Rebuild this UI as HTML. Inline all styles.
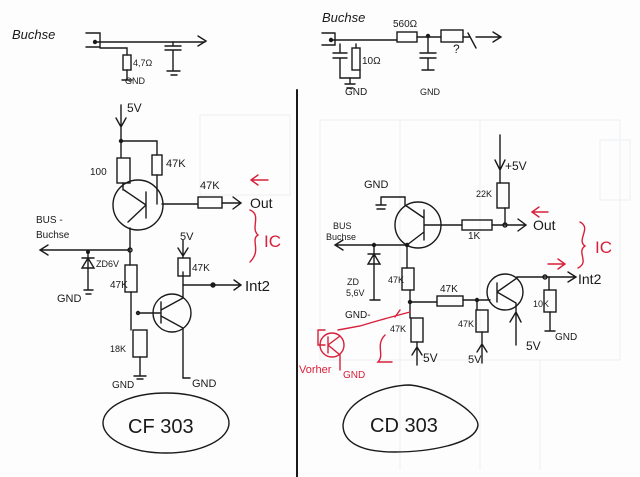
<!DOCTYPE html>
<html><head><meta charset="utf-8"><style>
html,body{margin:0;padding:0;background:#fff;}
svg{display:block;}
text{font-family:"Liberation Sans",sans-serif;fill:#1a1a1a;}
.r{fill:#d8203a;}
</style></head><body>
<svg width="640" height="477" viewBox="0 0 640 477" xmlns="http://www.w3.org/2000/svg">
<rect width="640" height="477" fill="#fdfdfd"/>
<g stroke="#eaeef4" stroke-width="1" fill="none">
<rect x="200" y="115" width="90" height="80"/><rect x="320" y="120" width="300" height="240"/>
<line x1="400" y1="120" x2="400" y2="470"/><line x1="480" y1="120" x2="480" y2="470"/>
<line x1="540" y1="360" x2="540" y2="470"/><rect x="600" y="140" width="30" height="60"/>
</g>
<g stroke="#1a1a1a" stroke-width="1.4" fill="none" stroke-linecap="round">
<path d="M86 33 H100 V47 H86"/><circle cx="95" cy="42" r="1.5" fill="#1a1a1a"/>
<path d="M95 42 H205 M198 36 L206 41 L198 46"/>
<path d="M173 42 V46 M165 46 H181 M165 50 H181 M173 50 V70 M167 71 H180 M171 75 H177"/>
<path d="M100 48 H127 V55"/><rect x="123" y="55" width="8" height="15"/><path d="M127 70 V80 M122 80 H132"/>
<path d="M121 105 V140 M116 118 L121 127 L126 118"/>
<circle cx="121" cy="141" r="1.5" fill="#1a1a1a"/>
<path d="M121 141 H157 V155 M157 175 V204 M121 141 V157 M123 183 V190"/>
<rect x="152" y="155" width="10" height="20"/><rect x="117" y="158" width="13" height="25"/>
<circle cx="138" cy="205" r="25"/><path d="M146 192 V218 M146 205 L124 190 M146 205 L128 222 M162 204 H198"/>
<rect x="198" y="197" width="24" height="11"/><path d="M222 203 H240 M233 197 L241 203 L233 209"/>
<path d="M130 228 V265 M130 250 H40 M48 245 L40 250 L48 255"/><circle cx="130" cy="250" r="2"/>
<circle cx="88" cy="252" r="1.3" fill="#1a1a1a"/>
<path d="M88 252 V290 M82 268 H94 L88 258 Z M82 258 H94 M84 290 H93 M86 294 H91"/>
<rect x="125" y="265" width="12" height="27"/><path d="M131 292 V330"/><circle cx="138" cy="313" r="1.5"/>
<path d="M138 313 H160 M161 302 V323"/>
<circle cx="172" cy="313" r="19"/><path d="M161 310 L183 298 M161 316 L183 328 V378 M183 298 V272"/>
<path d="M183 240 V258 M178 248 L183 256 L188 248"/><rect x="178" y="258" width="12" height="18"/>
<path d="M183 285 H213 M213 285 H240 M234 280 L241 285 L234 290"/><circle cx="213" cy="285" r="2" fill="#1a1a1a"/>
<rect x="133" y="330" width="14" height="27"/><path d="M140 357 V375 M134 376 H146 M137 379 H143"/>
<path d="M183 378 H190"/>
<ellipse cx="166" cy="423" rx="63" ry="30"/>
<path d="M297 90 V477" stroke-width="2"/>
<path d="M322 33 H335 M322 45 H335 V33"/><circle cx="331" cy="40" r="1.5" fill="#1a1a1a"/>
<path d="M331 40 H397 M417 37 H441 M463 37 H470 M468 33 L476 48 M476 37 H500 M493 32 L501 37 L493 42"/>
<rect x="397" y="32" width="20" height="10"/><circle cx="428" cy="36" r="1.5" fill="#1a1a1a"/>
<rect x="441" y="30" width="22" height="12"/>
<path d="M428 36 V53 M420 53 H436 M420 58 H436 M428 58 V70 M422 70 H434"/>
<path d="M340 44 V53 M333 53 H347 M333 58 H347 M340 58 V78 H360 V70 M356 48 V44"/>
<rect x="352" y="48" width="8" height="22"/><path d="M350 78 V84 M345 84 H355 M347 88 H353"/>
<path d="M500 135 V183 M495 160 L500 170 L505 160"/><rect x="497" y="183" width="12" height="25"/>
<path d="M505 208 V225 M492 225 H525 M518 219 L526 225 L518 231"/><circle cx="505" cy="225" r="2"/>
<path d="M381 197 V205 M376 205 H386 M377 209 H385 M381 197 H405 V205"/>
<circle cx="418" cy="225" r="23"/><path d="M424 210 V240 M424 225 H462 M424 218 L405 205 M424 232 L407 245"/>
<rect x="462" y="220" width="30" height="10"/>
<path d="M407 245 H335 M343 240 L335 245 L343 250"/><circle cx="374" cy="245" r="1.5" fill="#1a1a1a"/><circle cx="407" cy="245" r="1.5" fill="#1a1a1a"/>
<path d="M374 245 V300 M368 264 H380 L374 254 Z M368 254 H380 M370 300 H380"/>
<path d="M407 245 V268"/><rect x="402" y="268" width="12" height="22"/>
<path d="M410 290 V318 M410 302 H437"/><circle cx="410" cy="302" r="1.5" fill="#1a1a1a"/>
<rect x="437" y="296" width="26" height="10"/><path d="M463 300 H490"/><circle cx="477" cy="300" r="1.5" fill="#1a1a1a"/>
<path d="M477 300 V310"/><rect x="476" y="310" width="12" height="22"/><path d="M482 332 V363 M477 352 L482 344 L487 352"/>
<rect x="411" y="318" width="12" height="24"/><path d="M417 342 V365 M412 355 L417 347 L422 355"/>
<circle cx="505" cy="292" r="18"/><path d="M497 283 V302 M497 292 L516 303 V345 M510 322 L516 312 L521 322 M497 292 L517 278 V277 H545"/>
<path d="M545 277 H575 M568 272 L576 277 L568 282"/><circle cx="545" cy="277" r="2"/>
<path d="M549 277 V290"/><rect x="544" y="290" width="12" height="22"/><path d="M550 312 V330 M545 331 H555"/>
<path d="M343 425 C345 400 385 385 410 385 C440 388 478 412 478 425 C476 445 425 452 395 452 C360 452 343 442 343 425 Z"/>
</g>
<g stroke="#d8203a" stroke-width="1.4" fill="none" stroke-linecap="round">
<path d="M268 180 H252 M258 175 L251 180 L258 185"/>
<path d="M250 210 C262 215 250 228 258 235 C250 240 262 250 250 262"/>
<path d="M548 264 H564 M558 259 L565 264 L558 269"/>
<path d="M533 212 H548 M539 207 L532 212 L539 217"/>
<path d="M580 222 C592 228 576 240 585 246 C576 252 590 262 578 268"/>
<path d="M410 312 L395 316 Q380 320 360 326 L338 330 M400 310 L395 317"/>
<path d="M318 330 H325 M318 330 V345 H325"/><circle cx="332" cy="345" r="12"/>
<path d="M328 337 V353 M328 345 L340 336 M328 345 L340 355 V370"/>
<path d="M385 335 C375 345 385 355 378 362 L392 362"/>
</g>
<text x="12" y="39" font-size="13" font-style="italic">Buchse</text>
<text x="133" y="66" font-size="9">4,7Ω</text><text x="125" y="84" font-size="9">GND</text>
<text x="127" y="112" font-size="12">5V</text>
<text x="90" y="175" font-size="10">100</text><text x="166" y="167" font-size="11">47K</text>
<text x="200" y="189" font-size="11">47K</text><text x="250" y="208" font-size="14">Out</text>
<text class="r" x="264" y="247" font-size="17">IC</text>
<text x="36" y="223" font-size="10">BUS -</text><text x="36" y="238" font-size="10">Buchse</text>
<text x="96" y="267" font-size="9">ZD6V</text><text x="57" y="302" font-size="11">GND</text>
<text x="110" y="288" font-size="10">47K</text><text x="180" y="240" font-size="11">5V</text>
<text x="192" y="271" font-size="10">47K</text><text x="245" y="291" font-size="15">Int2</text>
<text x="110" y="352" font-size="9">18K</text><text x="112" y="388" font-size="10">GND</text><text x="192" y="387" font-size="11">GND</text>
<text x="128" y="433" font-size="20">CF  303</text>
<text x="322" y="22" font-size="13" font-style="italic">Buchse</text>
<text x="393" y="27" font-size="10">560Ω</text><text x="362" y="64" font-size="10">10Ω</text>
<text x="453" y="53" font-size="12">?</text>
<text x="345" y="95" font-size="10">GND</text><text x="420" y="95" font-size="9">GND</text>
<text x="505" y="170" font-size="12">+5V</text><text x="476" y="197" font-size="9">22K</text>
<text x="364" y="188" font-size="11">GND</text>
<text x="533" y="230" font-size="14">Out</text><text x="468" y="239" font-size="10">1K</text>
<text x="333" y="229" font-size="9">BUS</text><text x="326" y="240" font-size="9">Buchse</text>
<text class="r" x="595" y="253" font-size="17">IC</text>
<text x="347" y="285" font-size="9">ZD</text><text x="346" y="296" font-size="9">5,6V</text>
<text x="388" y="283" font-size="9">47K</text><text x="440" y="292" font-size="10">47K</text>
<text x="345" y="318" font-size="10">GND-</text><text x="390" y="332" font-size="9">47K</text>
<text x="458" y="327" font-size="9">47K</text><text x="533" y="307" font-size="9">10K</text>
<text x="578" y="284" font-size="14">Int2</text><text x="555" y="340" font-size="10">GND</text>
<text x="526" y="350" font-size="12">5V</text><text x="423" y="362" font-size="12">5V</text><text x="468" y="363" font-size="11">5V</text>
<text class="r" x="299" y="373" font-size="11">Vorher</text><text class="r" x="343" y="378" font-size="10">GND</text>
<text x="370" y="432" font-size="20">CD 303</text>
</svg>
</body></html>
